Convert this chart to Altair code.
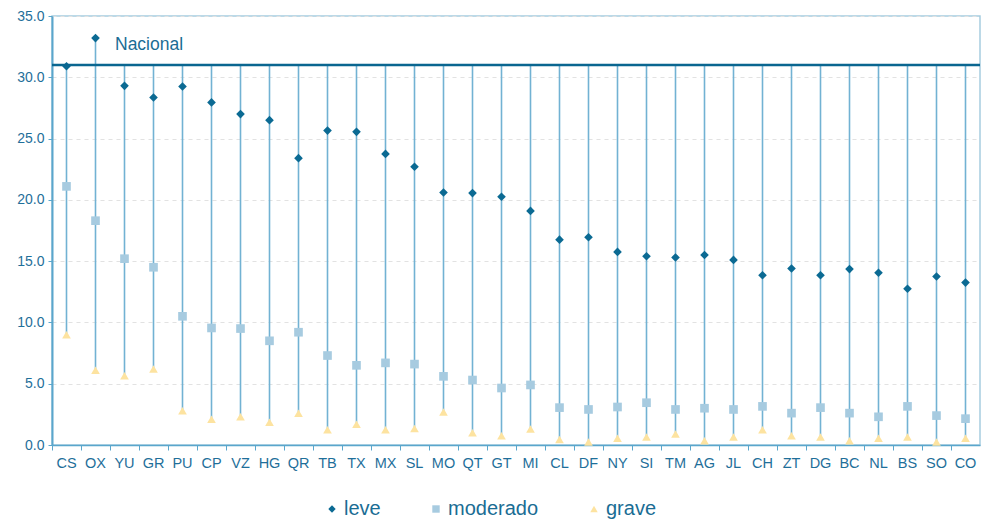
import altair as alt
import pandas as pd

estados = ["CS", "OX", "YU", "GR", "PU", "CP", "VZ", "HG", "QR", "TB", "TX", "MX", "SL", "MO", "QT", "GT",
           "MI", "CL", "DF", "NY", "SI", "TM", "AG", "JL", "CH", "ZT", "DG", "BC", "NL", "BS", "SO", "CO"]
leve = [30.9, 33.2, 29.3, 28.35, 29.25, 27.95, 27.0, 26.5, 23.4, 25.65, 25.55, 23.75, 22.7, 20.6, 20.55, 20.25,
        19.1, 16.75, 16.95, 15.75, 15.4, 15.3, 15.5, 15.1, 13.85, 14.4, 13.85, 14.35, 14.05, 12.75, 13.75, 13.25]
moderado = [21.1, 18.3, 15.2, 14.5, 10.5, 9.55, 9.5, 8.5, 9.2, 7.3, 6.5, 6.7, 6.6, 5.6, 5.3, 4.65,
            4.9, 3.05, 2.9, 3.1, 3.45, 2.9, 3.0, 2.9, 3.15, 2.6, 3.05, 2.6, 2.3, 3.15, 2.4, 2.15]
grave = [9.0, 6.1, 5.65, 6.2, 2.8, 2.1, 2.3, 1.85, 2.6, 1.25, 1.7, 1.25, 1.35, 2.7, 1.0, 0.75,
         1.3, 0.45, 0.25, 0.55, 0.65, 0.9, 0.35, 0.65, 1.25, 0.75, 0.65, 0.35, 0.55, 0.65, 0.25, 0.55]
nacional = 31.0
series = ["leve", "moderado", "grave"]
colores = ["#0b6a93", "#a7cbe0", "#fde3a0"]
formas = ["diamond", "square", "triangle-up"]

wide = pd.DataFrame({"estado": estados, "leve": leve, "moderado": moderado, "grave": grave})
wide["top"] = wide["leve"].clip(lower=nacional)
long = wide.melt(id_vars=["estado"], value_vars=series, var_name="serie", value_name="valor")

xenc = alt.X("estado:N", sort=estados, title=None,
             scale=alt.Scale(paddingInner=0, paddingOuter=0),
             axis=alt.Axis(bandPosition=0, labelAngle=0, labelFontSize=14.5, labelColor="#1f6f9a",
                           labelFont="Liberation Sans", labelPadding=6, tickSize=5, tickColor="#5aa6cc",
                           domainColor="#5aa6cc", domainWidth=1.5, grid=False))
ysc = alt.Scale(domain=[0, 35], nice=False)
yaxis = alt.Axis(values=[0, 5, 10, 15, 20, 25, 30, 35], format=".1f", labelFontSize=14, labelColor="#1f6f9a",
                 labelFont="Liberation Sans", labelPadding=4, tickSize=4, tickColor="#5aa6cc",
                 domainColor="#5aa6cc", domainWidth=2, gridColor="#e2e2e2", gridDash=[4, 4], gridWidth=1.2)

rules = alt.Chart(wide).mark_rule(color="#72b2d3", strokeWidth=1.6).encode(
    x=xenc,
    y=alt.Y("grave:Q", scale=ysc, axis=yaxis, title=None),
    y2="top:Q",
)

points = alt.Chart(long).mark_point(filled=True, opacity=1, size=75).encode(
    x=alt.X("estado:N", sort=estados),
    y=alt.Y("valor:Q", scale=ysc),
    color=alt.Color("serie:N", sort=series, scale=alt.Scale(domain=series, range=colores),
                    legend=alt.Legend(title=None, orient="none", direction="horizontal",
                                      legendX=270, legendY=483, labelFontSize=20, labelColor="#1a6d94",
                                      labelFont="Liberation Sans", symbolSize=55, columnPadding=45,
                                      labelOffset=2, symbolOpacity=1)),
    shape=alt.Shape("serie:N", sort=series, scale=alt.Scale(domain=series, range=formas)),
)

nac_df = pd.DataFrame({"y": [nacional], "label": ["Nacional"]})
nac_rule = alt.Chart(nac_df).mark_rule(color="#0a6690", strokeWidth=2.5).encode(
    y=alt.Y("y:Q", scale=ysc))
nac_text = alt.Chart(nac_df).mark_text(align="left", baseline="middle", fontSize=17.5, color="#1a6d94",
                                        font="Liberation Sans", dy=-20).encode(
    x=alt.value(63), y=alt.Y("y:Q", scale=ysc), text="label:N")

chart = alt.layer(rules, points, nac_rule, nac_text).properties(
    width=928, height=429,
    autosize=alt.AutoSizeParams(type="none"),
    padding={"left": 44, "top": 8, "right": 4, "bottom": 74},
).configure_view(stroke="#a6cde0", strokeWidth=1.5)

chart.save("out.html", embed_options={"renderer": "svg", "actions": False})
